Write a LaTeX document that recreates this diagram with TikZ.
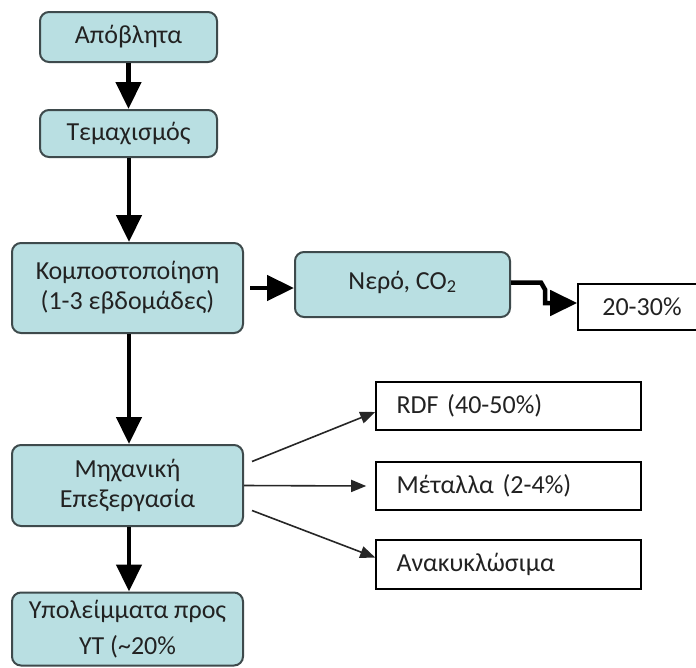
\documentclass[tikz,border=0pt]{standalone}
\usepackage{fontspec}
\setmainfont{Carlito}
\usetikzlibrary{arrows.meta}
\definecolor{boxfill}{HTML}{B9DFE2}
\definecolor{boxline}{HTML}{3E4A4C}
\definecolor{txt}{HTML}{222222}
\tikzset{
  procbox/.style={draw=boxline, line width=2pt, fill=boxfill, rounded corners=9pt,
    align=center, text=txt, inner sep=0pt, font=\fontsize{26}{30}\selectfont},
  outbox/.style={draw=black, line width=1.6pt, fill=white, text=txt, inner sep=0pt,
    font=\fontsize{26}{30}\selectfont},
  bigarrow/.style={draw=black, line width=4.5pt, -{Triangle[width=25pt,length=27pt]}},
  thinarrow/.style={draw=black!85, line width=1.6pt, -{Triangle[width=12pt,length=15pt]}}
}
\begin{document}
\begin{tikzpicture}[x=1pt,y=-1pt]
\useasboundingbox (0,0) rectangle (696,667);
\fill[white] (0,0) rectangle (696,667);
% process boxes
\node[procbox, minimum width=177pt, minimum height=50pt] (b1) at (128.5,37) {Απόβλητα};
\node[procbox, minimum width=177pt, minimum height=47pt] (b2) at (128.5,133.5) {Τεμαχισμός};
\node[procbox, minimum width=231pt, minimum height=90pt] (b3) at (127.5,288)
  {Κομποστοποίηση\\(1-3 εβδομάδες)};
\node[procbox, minimum width=215pt, minimum height=65pt] (nero) at (402.5,284.5)
  {\raisebox{9pt}{Νερό, CO\textsubscript{2}}};
\node[procbox, minimum width=231pt, minimum height=81pt] (b4) at (127.5,485.5)
  {Μηχανική\\Επεξεργασία};
\node[procbox, minimum width=231pt, minimum height=73pt,
  font=\fontsize{26}{36}\selectfont] (b5) at (127.5,629)
  {Υπολείμματα προς\\ΥΤ (\textasciitilde20\%};
% output boxes
\node[outbox, minimum width=128pt, minimum height=46pt] (pct) at (642,307) {20-30\%};
\node[outbox, minimum width=265pt, minimum height=48pt, text width=224pt, align=left] (rdf)
  at (508.5,406) {\raisebox{3pt}{RDF (40-50\%)}};
\node[outbox, minimum width=265pt, minimum height=48pt, text width=224pt, align=left] (met)
  at (508.5,486) {\raisebox{-2pt}{Μέταλλα (2-4\%)}};
\node[outbox, minimum width=265pt, minimum height=49pt, text width=224pt, align=left] (ana)
  at (508.5,564.5) {\raisebox{-6pt}{Ανακυκλώσιμα}};
% main flow
\draw[bigarrow] (b1.south) -- (b2.north);
\draw[bigarrow] ([xshift=1.5pt]b3.north |- b2.south) -- ([xshift=1.5pt]b3.north);
\draw[bigarrow] ([xshift=1.5pt]b3.south) -- ([xshift=1.5pt]b4.north);
\draw[bigarrow] ([xshift=1.5pt]b4.south) -- ([xshift=1.5pt]b5.north);
% side flows
\draw[bigarrow] ([xshift=6pt]b3.east) -- (b3.east -| nero.west);
\draw[line width=4.5pt, -{Triangle[width=25pt,length=27pt]}, line join=miter]
  ([yshift=2pt]nero.east) -- ++(30,0) -- ++(4,7) |- ([yshift=4pt]pct.west);
\draw[thinarrow] ([xshift=8pt,yshift=24pt]b4.east) -- ([yshift=-6pt]rdf.west);
\draw[thinarrow] (b4.east) -- ([xshift=-9pt]met.west);
\draw[thinarrow] ([xshift=8pt,yshift=-25pt]b4.east) -- ([yshift=7pt]ana.west);
\end{tikzpicture}
\end{document}
